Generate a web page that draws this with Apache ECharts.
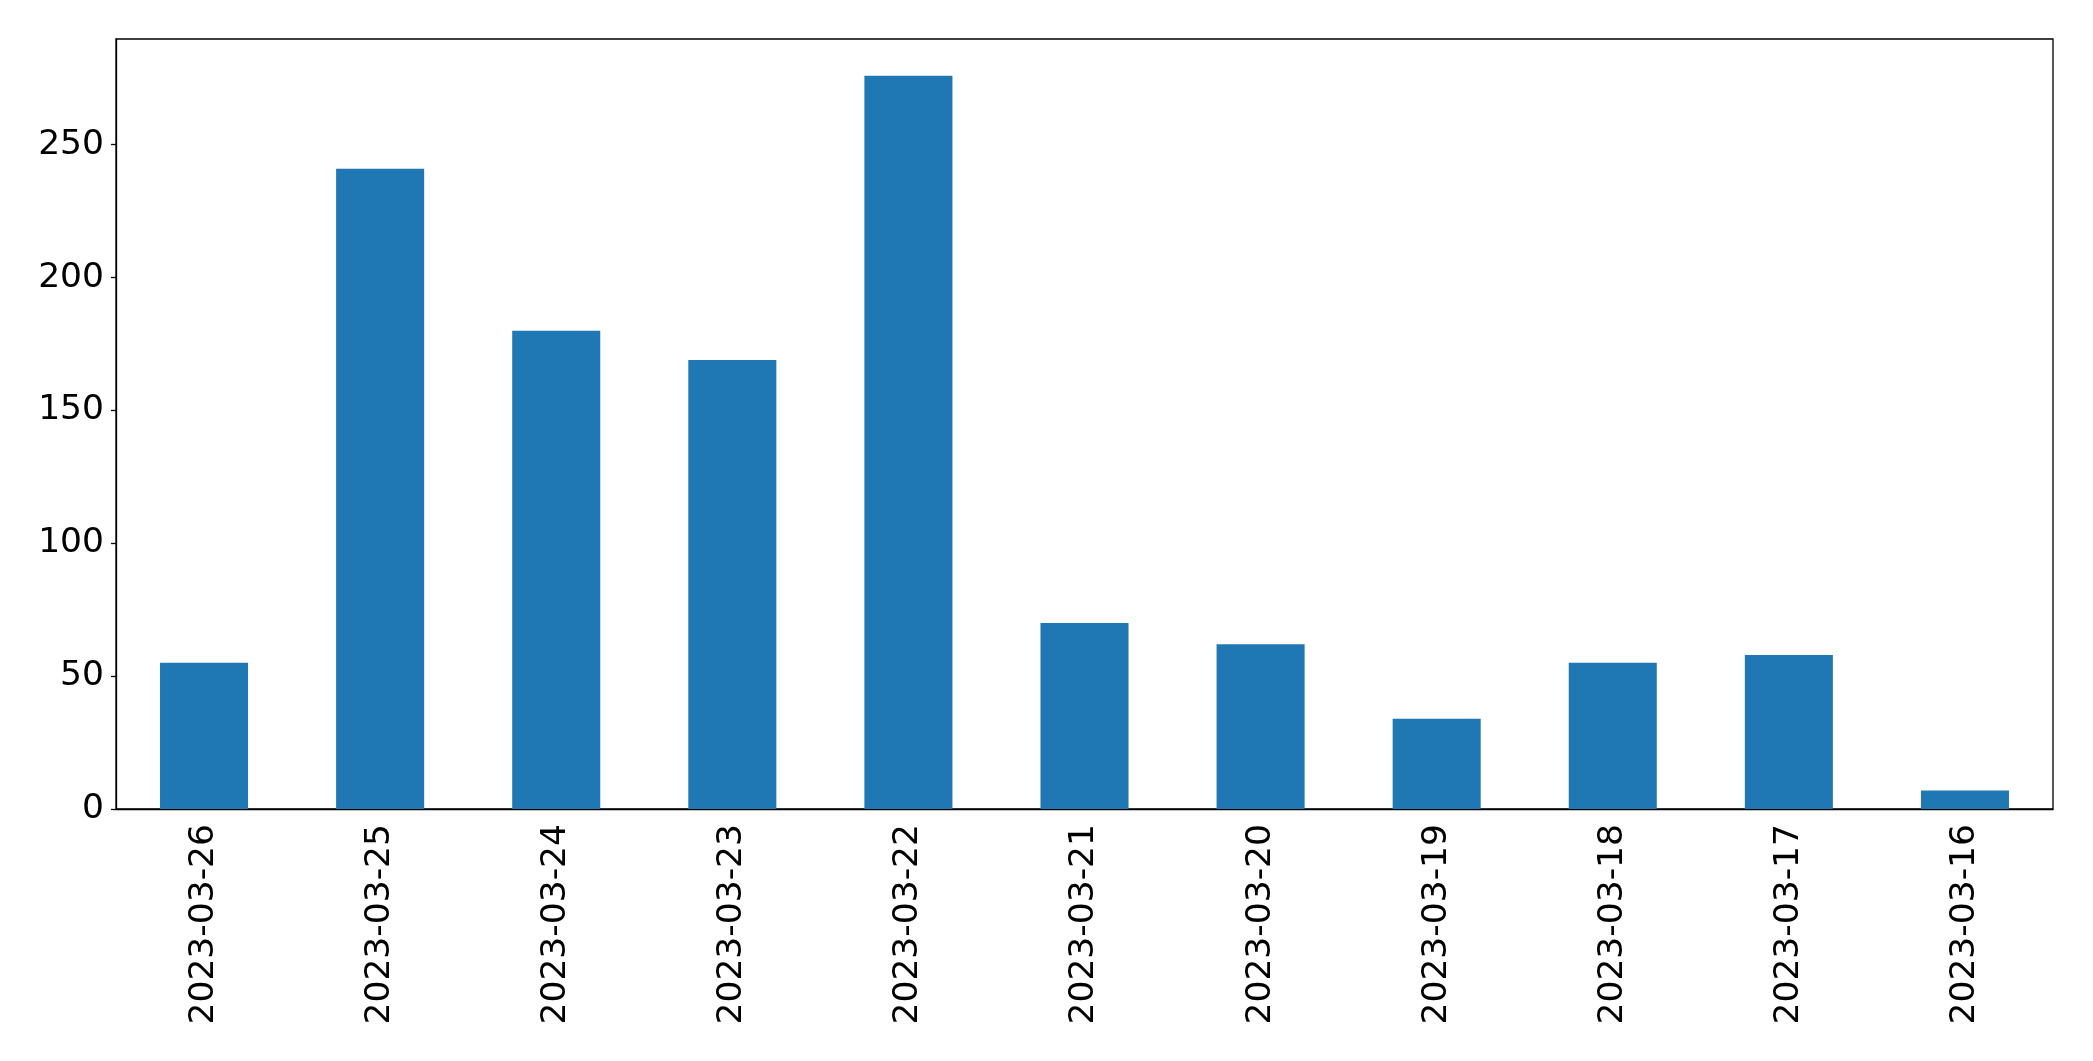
<!DOCTYPE html>
<html>
<head>
<meta charset="utf-8">
<script src="https://cdn.jsdelivr.net/npm/echarts@6/dist/echarts.min.js"></script>
<style>
  html, body { margin: 0; padding: 0; background: #fff; }
  #chart { width: 2093px; height: 1061px; }
</style>
</head>
<body>
<div id="chart"></div>
<script>
const dates = ['2023-03-26', '2023-03-25', '2023-03-24', '2023-03-23', '2023-03-22', '2023-03-21',
  '2023-03-20', '2023-03-19', '2023-03-18', '2023-03-17', '2023-03-16']
const counts = [55, 241, 180, 169, 276, 70, 62, 34, 55, 58, 7]
const yTicks = [0, 50, 100, 150, 200, 250]

const chart = echarts.init(document.getElementById('chart'))
const font = 'DejaVu Sans'

const option = {
  animation: false,
  grid: {
    left: 116, right: 40, top: 39, bottom: 252,
    show: true, borderColor: '#000', borderWidth: 1.3, backgroundColor: 'transparent'
  },
  xAxis: {
    type: 'category',
    data: dates,
    boundaryGap: true,
    axisLine: { lineStyle: { color: '#000', width: 1.3 } },
    axisTick: { alignWithLabel: true, length: 5, lineStyle: { color: '#000', width: 1.3 } },
    axisLabel: { rotate: 90, fontSize: 34.5, fontFamily: font, color: '#000', margin: 15, interval: 0 },
    splitLine: { show: false }
  },
  yAxis: {
    type: 'value',
    min: 0,
    max: 289.8,
    interval: 50,
    axisLine: { show: true, lineStyle: { color: '#000', width: 1.3 } },
    axisTick: { show: true, length: 5, customValues: yTicks, lineStyle: { color: '#000', width: 1.3 } },
    axisLabel: { fontSize: 34.5, fontFamily: font, color: '#000', margin: 12, customValues: yTicks },
    splitLine: { show: false }
  },
  series: [{
    type: 'bar',
    data: counts,
    barWidth: '50%',
    itemStyle: { color: '#1f77b4' }
  }]
}

chart.setOption(option)
window.addEventListener('resize', () => chart.resize())
</script>
</body>
</html>
